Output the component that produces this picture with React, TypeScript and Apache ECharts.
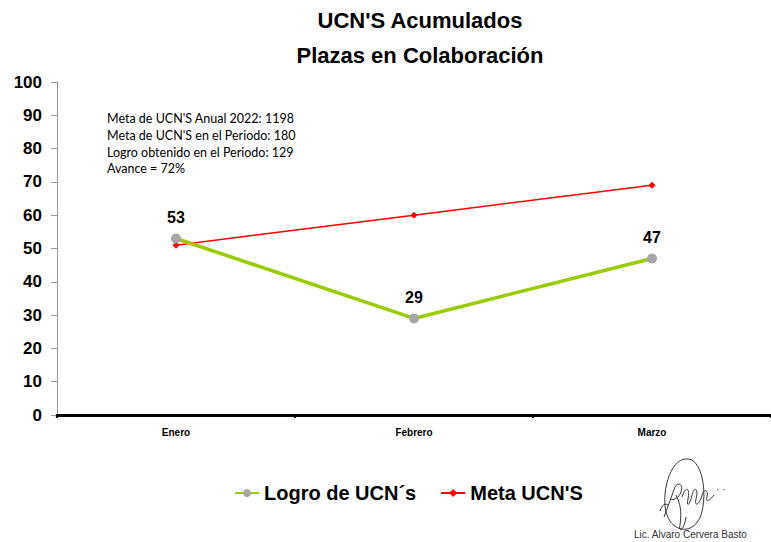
import React, { useEffect, useRef } from "react";
import * as echarts from "echarts";

const categories = ["Enero", "Febrero", "Marzo"];
const logro = [53, 29, 47];
const meta = [51, 60, 69];
const yTicks = { min: 0, max: 100, interval: 10 };
const infoLines = [
  "Meta de UCN'S Anual 2022: 1198",
  "Meta de UCN'S en el Periodo: 180",
  "Logro obtenido en el Periodo: 129",
  "Avance = 72%",
];
const titleLines = ["UCN'S Acumulados", "Plazas en Colaboración"];
const signatureName = "Lic. Alvaro Cervera Basto";

const sigPath =
  "M30 4 C14 4 4 40 11 60 C17 78 38 80 45 60 C52 38 46 2 30 4 " +
  "M8 62 C12 52 15 42 19 32 C21 27 28 28 25 37 C23 43 17 46 14 44 " +
  "M20 40 C24 48 26 56 24 70 C22 78 28 76 30 62 " +
  "M26 42 C30 30 34 33 32 44 C30 53 34 50 36 40 C38 31 43 33 40 44 C38 53 44 49 46 40 C48 33 53 35 51 42 C49 47 53 47 58 40 " +
  "M4 56 C6 50 9 48 12 50";
echarts.graphic.registerShape("sigScribble", (echarts.graphic as any).extendPath(sigPath, {}));

export default function App() {
  const ref = useRef<HTMLDivElement>(null);
  useEffect(() => {
    const chart = echarts.init(ref.current!, null, { renderer: "svg" });
    const font = "Liberation Sans, Arial, sans-serif";
    chart.setOption({
      animation: false,
      backgroundColor: "#ffffff",
      title: {
        text: titleLines.join("\n"),
        left: 415,
        top: -2,
        textAlign: "center",
        textStyle: { fontFamily: font, fontWeight: "bold", fontSize: 22, color: "#000", lineHeight: 35 },
      },
      grid: { left: 57, right: 0, top: 82, bottom: 127, containLabel: false },
      xAxis: {
        type: "category",
        data: categories,
        boundaryGap: true,
        axisLine: { lineStyle: { color: "#000", width: 3 } },
        axisTick: { show: true, length: 3, lineStyle: { color: "#000", width: 2 } },
        axisLabel: { fontFamily: font, fontWeight: "bold", fontSize: 10, color: "#000", margin: 12 },
      },
      yAxis: {
        type: "value",
        min: yTicks.min,
        max: yTicks.max,
        interval: yTicks.interval,
        splitLine: { show: false },
        axisLine: { show: true, lineStyle: { color: "#999", width: 1 } },
        axisTick: { show: true, length: 6, lineStyle: { color: "#999" } },
        axisLabel: { fontFamily: font, fontWeight: "bold", fontSize: 17, color: "#000", margin: 15 },
      },
      legend: {
        bottom: 34,
        left: 229,
        itemGap: 24,
        itemWidth: 24,
        itemHeight: 10,
        textStyle: { fontFamily: font, fontWeight: "bold", fontSize: 20, color: "#000" },
        data: ["Logro de UCN´s", "Meta UCN'S"],
      },
      series: [
        {
          name: "Meta UCN'S",
          type: "line",
          data: meta,
          symbol: "diamond",
          symbolSize: 7,
          lineStyle: { color: "#ff0000", width: 1.5 },
          itemStyle: { color: "#ff0000" },
          z: 2,
        },
        {
          name: "Logro de UCN´s",
          type: "line",
          data: logro,
          symbol: "circle",
          symbolSize: 10,
          lineStyle: { color: "#99cc00", width: 3.5 },
          itemStyle: { color: "#a6a6a6" },
          label: {
            show: true,
            position: "top",
            distance: 8,
            fontFamily: font,
            fontWeight: "bold",
            fontSize: 16,
            color: "#000",
          },
          z: 3,
        },
      ],
      graphic: [
        {
          type: "text",
          left: 107,
          top: 110,
          style: {
            text: infoLines.join("\n"),
            fontFamily: "Lato, sans-serif",
            fontSize: 12.5,
            lineHeight: 16.8,
            fill: "#000",
          },
        },
        {
          type: "text",
          left: 634,
          top: 529,
          style: { text: signatureName, fontFamily: font, fontSize: 10, fill: "#333" },
        },
        {
          type: "sigScribble",
          x: 656,
          y: 455,
          scaleX: 1,
          scaleY: 1,
          style: { fill: "none", stroke: "#222", lineWidth: 0.9 },
        },
        {
          type: "text",
          left: 716,
          top: 484,
          style: { text: "· ·", fontFamily: font, fontSize: 10, fill: "#444" },
        },
      ],
    });
    return () => chart.dispose();
  }, []);
  return <div ref={ref} style={{ width: 771, height: 542, position: "absolute", left: 0, top: 0 }} />;
}
